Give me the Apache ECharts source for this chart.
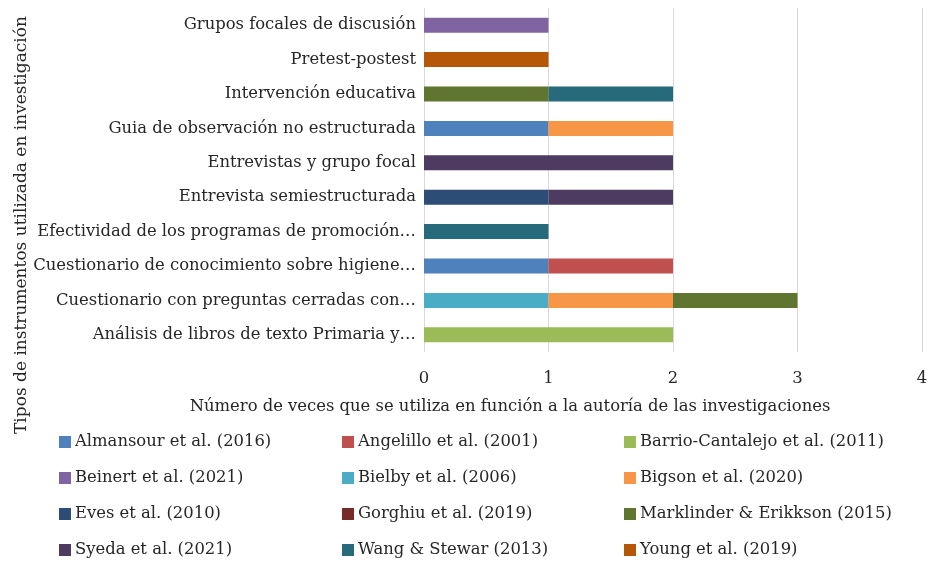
<!DOCTYPE html>
<html>
<head>
<meta charset="utf-8">
<script src="https://cdn.jsdelivr.net/npm/echarts@6/dist/echarts.min.js"></script>
<style>html,body{margin:0;padding:0;background:#fff}#c{width:933px;height:561px}</style>
</head>
<body>
<div id="c"></div>
<script>
// Categories, bottom to top
const categories = [
  "Análisis de libros de texto Primaria y…",
  "Cuestionario con preguntas cerradas con…",
  "Cuestionario de conocimiento sobre higiene…",
  "Efectividad de los programas de promoción…",
  "Entrevista semiestructurada",
  "Entrevistas y grupo focal",
  "Guia de observación no estructurada",
  "Intervención educativa",
  "Pretest-postest",
  "Grupos focales de discusión"
];
const xTicks = [0, 1, 2, 3, 4];
const seriesNames = [
  "Almansour et al. (2016)", "Angelillo et al. (2001)", "Barrio-Cantalejo et al. (2011)",
  "Beinert et al. (2021)", "Bielby et al. (2006)", "Bigson et al. (2020)",
  "Eves et al. (2010)", "Gorghiu et al. (2019)", "Marklinder & Erikkson (2015)",
  "Syeda et al. (2021)", "Wang & Stewar (2013)", "Young et al. (2019)"
];
const almansour  = [null, null, 1, null, null, null, 1, null, null, null];
const angelillo  = [null, null, 1, null, null, null, null, null, null, null];
const barrio     = [2, null, null, null, null, null, null, null, null, null];
const beinert    = [null, null, null, null, null, null, null, null, null, 1];
const bielby     = [null, 1, null, null, null, null, null, null, null, null];
const bigson     = [null, 1, null, null, null, null, 1, null, null, null];
const eves       = [null, null, null, null, 1, null, null, null, null, null];
const gorghiu    = [null, null, null, null, null, null, null, null, null, null];
const marklinder = [null, 1, null, null, null, null, null, 1, null, null];
const syeda      = [null, null, null, null, 1, 2, null, null, null, null];
const wang       = [null, null, null, 1, null, null, null, 1, null, null];
const young      = [null, null, null, null, null, null, null, null, 1, null];
const seriesValues = [almansour, angelillo, barrio, beinert, bielby, bigson, eves, gorghiu, marklinder, syeda, wang, young];
const colors = ["#4F81BD", "#C0504D", "#9BBB59", "#8064A2", "#4BACC6", "#F79646",
                "#2C4D75", "#772C2A", "#5F7530", "#4D3B62", "#276A7C", "#B65708"];
const xAxisName = "Número de veces que se utiliza en función a la autoría de las investigaciones";
const yAxisName = "Tipos de instrumentos utilizada en investigación";

const FONT = "DejaVu Serif";
const FS = 16.4;
const TXT = "#262626";
const chart = echarts.init(document.getElementById('c'), null, {renderer: 'canvas'});

const colLeft = [59, 342, 624];
const rowCenter = [442, 478, 514, 550];
const legends = seriesNames.map((n, i) => ({
  orient: 'horizontal', padding: 0,
  left: colLeft[i % 3], top: rowCenter[Math.floor(i / 3)] - 10,
  itemWidth: 12, itemHeight: 12, itemGap: 0, icon: 'rect',
  textStyle: {fontFamily: FONT, fontSize: FS, color: TXT, lineHeight: 20, padding: [0, 0, 0, -1]},
  data: [n], selectedMode: false
}));

chart.setOption({
  animation: false,
  color: colors,
  grid: {left: 424, right: 11, top: 8, bottom: 209, containLabel: false},
  xAxis: {
    type: 'value', min: 0, max: 4, interval: 1,
    axisLine: {show: false}, axisTick: {show: false},
    splitLine: {lineStyle: {color: '#D9D9D9', width: 1}},
    axisLabel: {fontFamily: FONT, fontSize: FS, color: TXT, margin: 19,
      formatter: v => xTicks.includes(v) ? String(v) : ''}
  },
  yAxis: {
    type: 'category', data: categories,
    axisLine: {show: false}, axisTick: {show: false},
    axisLabel: {fontFamily: FONT, fontSize: FS, color: TXT, margin: 8}
  },
  legend: legends,
  graphic: [
    {type: 'text', x: 510, y: 407, style: {text: xAxisName, font: FS + 'px "' + FONT + '"', fill: TXT, align: 'center', verticalAlign: 'middle'}},
    {type: 'text', x: 22, y: 225, rotation: Math.PI/2, style: {text: yAxisName, font: '17px "' + FONT + '"', fill: TXT, align: 'center', verticalAlign: 'middle'}}
  ],
  series: seriesNames.map((n, i) => ({
    name: n, type: 'bar', stack: 'total', barWidth: 15,
    data: seriesValues[i], itemStyle: {color: colors[i]}
  }))
});
</script>
</body>
</html>
